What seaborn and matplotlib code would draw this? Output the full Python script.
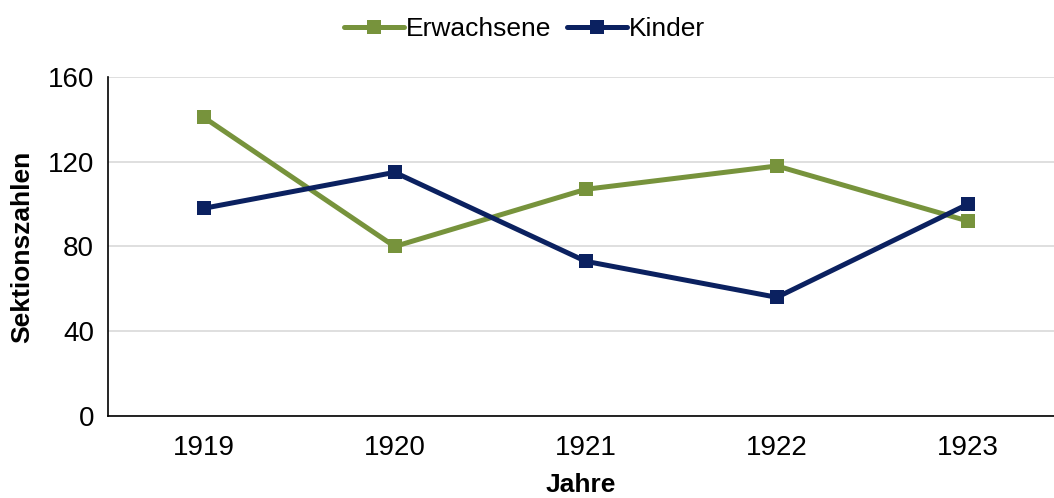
import numpy as np
import pandas as pd
import matplotlib
matplotlib.use("Agg")
import matplotlib.pyplot as plt
import seaborn as sns

jahre = ["1919", "1920", "1921", "1922", "1923"]
erwachsene = [141, 80, 107, 118, 92]
kinder = [98, 115, 73, 56, 100]

sns.set_theme(style="white")
plt.rcParams["font.family"] = ["Liberation Sans", "DejaVu Sans"]

df = pd.DataFrame({
    "Jahre": jahre * 2,
    "Wert": erwachsene + kinder,
    "Gruppe": ["Erwachsene"] * len(jahre) + ["Kinder"] * len(jahre),
})

fig = plt.figure(figsize=(10.54, 4.98), dpi=100)
ax = fig.add_axes([0.1025, 0.1647, 0.8975, 0.6807])

pal = {"Erwachsene": "#77933C", "Kinder": "#0B2160"}
sns.lineplot(data=df, x="Jahre", y="Wert", hue="Gruppe", style="Gruppe",
             markers=["s", "s"], dashes=False, palette=pal, linewidth=3.6,
             markersize=9.5, markeredgewidth=0, sort=False, ax=ax)

ax.set_ylim(0, 160)
ax.set_yticks([0, 40, 80, 120, 160])
ax.set_xlim(-0.5, 4.45)
ax.yaxis.grid(True, color="#D9D9D9", linewidth=1.2)
ax.set_axisbelow(True)
for s in ["top", "right"]:
    ax.spines[s].set_visible(False)
for s in ["left", "bottom"]:
    ax.spines[s].set_color("black")
    ax.spines[s].set_linewidth(1.2)
ax.tick_params(axis="both", labelsize=20, colors="black", length=0)
ax.tick_params(axis="x", pad=14)
ax.tick_params(axis="y", pad=10)
ax.set_xlabel("Jahre", fontsize=19, fontweight="bold", labelpad=8, color="black")
ax.set_ylabel("Sektionszahlen", fontsize=19, fontweight="bold", labelpad=10, color="black")

leg = ax.legend(loc="lower center", bbox_to_anchor=(0.44, 1.035), ncol=2,
                frameon=False, fontsize=19, handlelength=2.3,
                handletextpad=0.05, columnspacing=0.6)
for t in leg.get_texts():
    t.set_color("black")

fig.savefig("out.png", dpi=100)
